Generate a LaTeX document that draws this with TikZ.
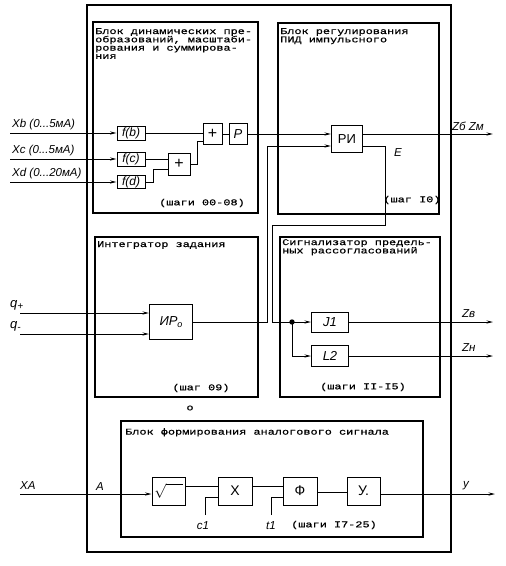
\documentclass[tikz,border=0pt]{standalone}
\usepackage{fontspec}
\setmainfont{Liberation Sans}
\newfontfamily\tw[FakeStretch=1.35,FakeBold=0.6]{Liberation Mono}
\newfontfamily\hw{Liberation Sans}
\usetikzlibrary{arrows.meta}
\begin{document}
\begin{tikzpicture}[x=1pt,y=-1pt,
  frm/.style={draw, line width=1.1pt, inner sep=0pt},
  blk/.style={draw, line width=1pt, inner sep=0pt, fill=white, font=\hw\fontsize{12}{13}\selectfont},
  iblk/.style={blk, font=\hw\itshape\fontsize{12}{12}\selectfont},
  wire/.style={line width=0.9pt},
  arr/.style={-{Stealth[length=6.5pt,width=3.2pt]}},
  ttext/.style={font=\tw\fontsize{8.8}{8.3}\selectfont, align=left, inner sep=0pt},
  hlab/.style={font=\hw\itshape\fontsize{11.5}{12}\selectfont, inner sep=0pt}]
\useasboundingbox (0,0) rectangle (506,566);
% frames
\node[frm, minimum width=364, minimum height=547] (outer) at (269,278.5) {};
\node[frm, minimum width=165, minimum height=191] (dyn) at (175.5,117.5) {};
\node[frm, minimum width=161, minimum height=191] (pid) at (358.5,118.5) {};
\node[frm, minimum width=163, minimum height=160] (intg) at (176.5,317) {};
\node[frm, minimum width=160, minimum height=160] (sig) at (360,317) {};
\node[frm, minimum width=302, minimum height=116] (ana) at (272,479) {};
% titles
\node[ttext, anchor=north west] (tdyn) at (95,28) {Блок динамических пре-\\образований, масштаби-\\рования и суммирова-\\ния};
\node[ttext, anchor=north west] (tpid) at (280,28) {Блок регулирования\\ПИД импульсного};
\node[ttext, anchor=north west] (tint) at (97,241) {Интегратор задания};
\node[ttext, anchor=north west] (tsig) at (282,239) {Сигнализатор предель-\\ных рассогласований};
\node[ttext, anchor=north west] (tana) at (125,428) {Блок формирования аналогового сигнала};
\node[ttext] (s1t) at (202,203) {(шаги 00-08)};
\node[ttext] (s2t) at (412,200) {(шаг I0)};
\node[ttext] (s3t) at (201,388) {(шаг 09)};
\node[ttext] (s4t) at (363,387) {(шаги II-I5)};
\node[ttext] (s5t) at (334,525) {(шаги I7-25)};
\node[ttext] (dot) at (190,408) {o};
% blocks
\node[iblk, minimum width=28, minimum height=14] (fb) at (131,133) {f(b)};
\node[iblk, minimum width=28, minimum height=14] (fc) at (131,159) {f(c)};
\node[iblk, minimum width=28, minimum height=13] (fd) at (131,182) {f(d)};
\node[blk, minimum width=22, minimum height=22, font=\hw\fontsize{16}{16}\selectfont] (p2) at (179,164) {+};
\node[blk, minimum width=19, minimum height=21, font=\hw\fontsize{16}{16}\selectfont] (p1) at (212.5,134) {+};
\node[iblk, minimum width=18, minimum height=21, font=\hw\itshape\fontsize{13}{13}\selectfont] (pp) at (238,134) {P};
\node[blk, minimum width=31, minimum height=27, font=\hw\fontsize{13}{13}\selectfont] (ri) at (347,139) {РИ};
\node[iblk, minimum width=43, minimum height=35, font=\hw\itshape\fontsize{13}{13}\selectfont] (ir) at (171,322) {ИР\raisebox{-2pt}{\fontsize{9}{9}\selectfont о}};
\node[iblk, minimum width=37, minimum height=20, font=\hw\itshape\fontsize{13}{13}\selectfont] (j1) at (330,322) {J1};
\node[iblk, minimum width=37, minimum height=21, font=\hw\itshape\fontsize{13}{13}\selectfont] (l2) at (330,356) {L2};
\node[blk, minimum width=33, minimum height=28, font=\fontsize{14}{14}\selectfont] (sq) at (168.5,491) {$\sqrt{\hphantom{xx}}$};
\node[blk, minimum width=34, minimum height=28, font=\hw\fontsize{14}{14}\selectfont] (xm) at (235,491) {X};
\node[blk, minimum width=34, minimum height=28, font=\hw\fontsize{14}{14}\selectfont] (ff) at (300,491) {Ф};
\node[blk, minimum width=33, minimum height=28, font=\hw\fontsize{14}{14}\selectfont] (uu) at (363.5,491) {У.};
% inputs of dynamic block
\coordinate (xbin) at (10,133);
\coordinate (xcin) at (10,159);
\coordinate (xdin) at (10,182);
\draw[wire,arr] (xbin) -- (fb.west);
\draw[wire,arr] (xcin) -- (fc.west);
\draw[wire,arr] (xdin) -- (fd.west);
\node[hlab, anchor=south west] (lxb) at (12,130) {Xb (0...5мА)};
\node[hlab, anchor=south west] (lxc) at (12,156) {Xc (0...5мА)};
\node[hlab, anchor=south west] (lxd) at (12,179) {Xd (0...20мА)};
\draw[wire] (fb.east) -- (fb.east -| p1.west);
\draw[wire] (fc.east) -- (fc.east -| p2.west);
\coordinate (d1) at (153,182);
\coordinate (d2) at (153,169);
\draw[wire] (fd.east) -- (d1) -- (d2) -- (d2 -| p2.west);
\coordinate (e1) at (197,164);
\coordinate (e2) at (197,141);
\draw[wire] (p2.east) -- (e1) -- (e2) -- (e2 -| p1.west);
\draw[wire] (p1.east) -- (pp.west);
\draw[wire,arr] (pp.east) -- (pp.east -| ri.west);
% regulator output
\coordinate (zout) at (493,134);
\draw[wire,arr] (pp.east -| ri.east) -- (zout);
\node[hlab, anchor=south west] (lz) at (452,131) {Zб Zм};
% setpoint from integrator to regulator
\coordinate (s1) at (267,322);
\coordinate (s2) at (267,146);
\draw[wire,arr] (ir.east) -- (s1) -- (s2) -- (s2 -| ri.west);
% error loop
\coordinate (g1) at (385,146);
\coordinate (g2) at (385,225);
\coordinate (g3) at (272,225);
\coordinate (g4) at (272,322);
\coordinate (jn) at (292,322);
\coordinate (jn2) at (292,356);
\draw[wire] (g1 -| ri.east) -- (g1) -- (g2) -- (g3) -- (g4) -- (jn);
\node[hlab] (le) at (398,153) {E};
\draw[wire,arr] (jn) -- (j1.west);
\draw[wire,arr] (jn) -- (jn2) -- (l2.west);
\fill (jn) circle (2.7);
\draw[wire,arr] (j1.east) -- (j1.east -| zout);
\draw[wire,arr] (l2.east) -- (l2.east -| zout);
\node[hlab, anchor=south west] (lzv) at (462,318) {Zв};
\node[hlab, anchor=south west] (lzn) at (462,352) {Zн};
% integrator inputs
\coordinate (qp) at (20,313);
\coordinate (qm) at (20,334);
\draw[wire,arr] (qp) -- (qp -| ir.west);
\draw[wire,arr] (qm) -- (qm -| ir.west);
\node[hlab, anchor=south west, font=\hw\itshape\fontsize{13}{13}\selectfont] (lqp) at (10,310) {q\raisebox{-2pt}{\fontsize{10}{10}\selectfont +}};
\node[hlab, anchor=south west, font=\hw\itshape\fontsize{13}{13}\selectfont] (lqm) at (10,331) {q\raisebox{-2pt}{\fontsize{10}{10}\selectfont -}};
% analog block
\coordinate (xa) at (20,494);
\draw[wire,arr] (xa) -- (xa -| sq.west);
\node[hlab, anchor=south west] (lxa) at (20,490) {XA};
\node[hlab, anchor=south west] (la) at (96,491) {A};
\coordinate (a1) at (0,486);
\coordinate (a2) at (0,492);
\draw[wire] (sq.east |- a1) -- (xm.west |- a1);
\draw[wire] (xm.east |- a1) -- (ff.west |- a1);
\draw[wire] (ff.east |- a2) -- (uu.west |- a2);
\coordinate (yout) at (495,494);
\draw[wire,arr] (uu.east |- yout) -- (yout);
\node[hlab, anchor=south west] (ly) at (463,490) {y};
\coordinate (c1b) at (205,515);
\coordinate (c1t) at (205,497);
\draw[wire] (c1b) -- (c1t) -- (c1t -| xm.west);
\coordinate (t1b) at (271,515);
\coordinate (t1t) at (271,497);
\draw[wire] (t1b) -- (t1t) -- (t1t -| ff.west);
\node[hlab] (lc1) at (203,526) {c1};
\node[hlab] (lt1) at (271,526) {t1};
\end{tikzpicture}
\end{document}
